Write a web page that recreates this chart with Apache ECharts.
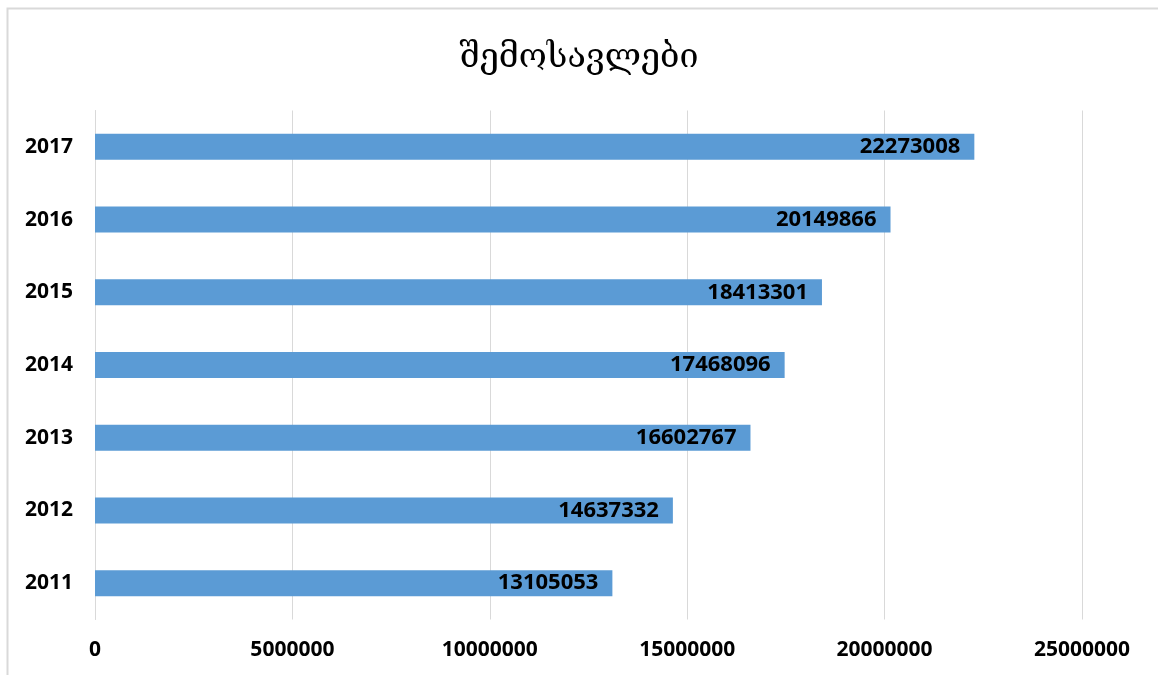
<!DOCTYPE html>
<html>
<head>
<meta charset="utf-8">
<script src="https://cdn.jsdelivr.net/npm/echarts@6/dist/echarts.min.js"></script>
<style>html,body{margin:0;padding:0;background:#fff;}#c{width:1158px;height:675px;}</style>
</head>
<body>
<div id="c"></div>
<script>
const titleText = 'შემოსავლები';
const categories = ['2011', '2012', '2013', '2014', '2015', '2016', '2017'];
const values = [13105053, 14637332, 16602767, 17468096, 18413301, 20149866, 22273008];
const xTicks = { min: 0, max: 25000000, interval: 5000000 };

const chart = echarts.init(document.getElementById('c'), null, { renderer: 'canvas' });
chart.setOption({
  backgroundColor: '#fff',
  animation: false,
  graphic: [{
    type: 'rect',
    shape: { x: 7.5, y: 8.5, width: 1200, height: 700 },
    style: { fill: 'none', stroke: '#d9d9d9', lineWidth: 2 },
    silent: true
  }],
  title: {
    text: titleText,
    left: 'center',
    top: 36,
    textStyle: { fontFamily: 'DejaVu Serif, DejaVu Sans', fontSize: 34, fontWeight: 'normal', color: '#000' }
  },
  grid: { left: 95, right: 76, top: 110.5, bottom: 55.5, containLabel: false },
  xAxis: {
    type: 'value',
    min: xTicks.min, max: xTicks.max, interval: xTicks.interval,
    axisLine: { show: false },
    axisTick: { show: false },
    splitLine: { show: true, lineStyle: { color: '#d9d9d9', width: 1 } },
    axisLabel: {
      margin: 20, color: '#000', fontWeight: 'bold', fontSize: 21,
      fontFamily: 'Open Sans, Lato, sans-serif',
      formatter: function (v) { return String(v); }
    }
  },
  yAxis: {
    type: 'category',
    data: categories,
    axisLine: { show: true, lineStyle: { color: '#d9d9d9', width: 1 } },
    axisTick: { show: false },
    axisLabel: { margin: 22, color: '#000', fontWeight: 'bold', fontSize: 21, fontFamily: 'Open Sans, Lato, sans-serif' }
  },
  series: [{
    type: 'bar',
    data: values,
    barWidth: 26,
    itemStyle: { color: '#5b9bd5' },
    label: {
      show: true,
      position: 'insideRight',
      distance: 14,
      color: '#000',
      fontWeight: 'bold',
      fontSize: 22,
      fontFamily: 'Open Sans, Lato, sans-serif'
    }
  }]
});
</script>
</body>
</html>
